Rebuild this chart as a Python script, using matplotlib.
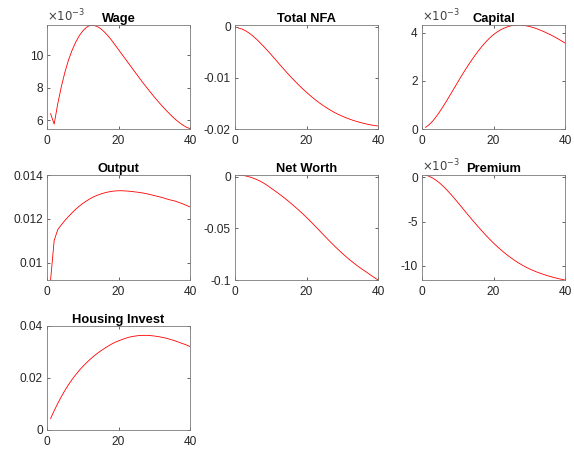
import matplotlib
matplotlib.use("Agg")
import matplotlib.pyplot as plt
from matplotlib.ticker import FuncFormatter
import numpy as np

plt.rcParams['font.family'] = ['Liberation Sans', 'DejaVu Sans']
plt.rcParams['axes.unicode_minus'] = False

# horizon (quarters)
periods = np.arange(1, 41)

# impulse responses, values in units of 1e-3
wage = [6.40, 5.75, 7.00, 8.05, 8.95, 9.70, 10.30, 10.80, 11.20, 11.50,
        11.72, 11.85, 11.85, 11.78, 11.65, 11.45, 11.22, 10.95, 10.65, 10.35,
        10.05, 9.75, 9.45, 9.15, 8.85, 8.55, 8.26, 7.98, 7.70, 7.43,
        7.17, 6.92, 6.68, 6.45, 6.23, 6.03, 5.85, 5.69, 5.56, 5.47]
total_nfa = [-0.30, -0.50, -0.85, -1.30, -1.85, -2.47, -3.15, -3.87, -4.62, -5.40,
             -6.20, -7.00, -7.80, -8.59, -9.36, -10.11, -10.83, -11.53, -12.20, -12.84,
             -13.45, -14.03, -14.58, -15.10, -15.58, -16.03, -16.45, -16.83, -17.18, -17.50,
             -17.79, -18.06, -18.30, -18.52, -18.72, -18.90, -19.06, -19.20, -19.32, -19.42]
capital = [0.07, 0.18, 0.33, 0.52, 0.73, 0.96, 1.20, 1.45, 1.70, 1.95,
           2.20, 2.44, 2.67, 2.89, 3.10, 3.30, 3.48, 3.65, 3.80, 3.93,
           4.04, 4.13, 4.20, 4.26, 4.30, 4.32, 4.33, 4.32, 4.30, 4.27,
           4.23, 4.18, 4.12, 4.06, 3.99, 3.92, 3.84, 3.76, 3.67, 3.58]
output = [9.2, 11.0, 11.5, 11.72, 11.92, 12.1, 12.27, 12.43, 12.57, 12.7,
          12.81, 12.91, 13.0, 13.07, 13.13, 13.18, 13.22, 13.25, 13.27, 13.28,
          13.28, 13.27, 13.26, 13.24, 13.22, 13.2, 13.17, 13.14, 13.10, 13.06,
          13.02, 12.98, 12.93, 12.88, 12.84, 12.80, 12.74, 12.68, 12.61, 12.54]
net_worth = [1.5, 1.2, 0.6, -0.3, -1.4, -2.8, -4.4, -6.3, -8.5, -11.0,
             -13.4, -15.9, -18.5, -21.2, -24.0, -26.9, -29.9, -33.0, -36.2, -39.5,
             -42.9, -46.4, -50.0, -53.6, -57.2, -60.8, -64.3, -67.7, -71.0, -74.2,
             -77.3, -80.2, -83.0, -85.7, -88.2, -90.6, -92.9, -95.4, -97.7, -100.0]
premium = [0.25, 0.10, -0.10, -0.36, -0.68, -1.05, -1.46, -1.90, -2.36, -2.84,
           -3.33, -3.82, -4.31, -4.79, -5.26, -5.72, -6.17, -6.61, -7.03, -7.43,
           -7.81, -8.17, -8.51, -8.83, -9.13, -9.41, -9.67, -9.91, -10.13, -10.33,
           -10.51, -10.68, -10.83, -10.97, -11.10, -11.22, -11.33, -11.43, -11.52, -11.60]
housing_invest = [4.4, 7.4, 10.2, 12.8, 15.2, 17.4, 19.4, 21.2, 22.9, 24.4,
                  25.8, 27.1, 28.3, 29.4, 30.4, 31.3, 32.2, 33.0, 33.7, 34.3,
                  34.8, 35.3, 35.7, 36.0, 36.2, 36.35, 36.4, 36.4, 36.3, 36.15,
                  35.95, 35.7, 35.4, 35.05, 34.65, 34.2, 33.7, 33.2, 32.7, 32.1]

titles = ['Wage', 'Total NFA', 'Capital', 'Output', 'Net Worth', 'Premium', 'Housing Invest']
series = [wage, total_nfa, capital, output, net_worth, premium, housing_invest]
# panels drawn with a x10^-3 axis multiplier
scaled = [True, False, True, False, False, True, False]
ylims = [(5.45, 11.87), (-20, 0.3), (0, 4.33), (9.2, 14), (-100, 1.5), (-11.6, 0.25), (0, 40)]
yticks = [[6, 8, 10], [-20, -10, 0], [0, 2, 4], [10, 12, 14], [-100, -50, 0], [-10, -5, 0], [0, 20, 40]]

fig = plt.figure(figsize=(5.74, 4.53), dpi=100)
W, H = 574, 453
lefts = [47, 235, 422]
tops = [25, 175, 326]
bottoms = [129, 280, 430]
aw = 143

for i, (name, vals) in enumerate(zip(titles, series)):
    r, c = divmod(i, 3)
    ax = fig.add_axes([lefts[c] / W, 1 - bottoms[r] / H, aw / W, (bottoms[r] - tops[r]) / H])
    k = 1.0 if scaled[i] else 1e-3
    ax.plot(periods, np.array(vals) * k, color='#ff0000', linewidth=0.6)
    ax.set_xlim(0, 40)
    ax.set_xticks([0, 20, 40])
    lo, hi = ylims[i]
    ax.set_ylim(lo * k, hi * k)
    ax.set_yticks([t * k for t in yticks[i]])
    ax.yaxis.set_major_formatter(FuncFormatter(lambda v, p: '%g' % round(v, 6)))
    ax.xaxis.set_major_formatter(FuncFormatter(lambda v, p: '%g' % v))
    ax.tick_params(direction='in', length=2, width=0.5, top=True, right=True,
                   labelsize=8.6, colors='#262626')
    ax.tick_params(axis='x', pad=4)
    ax.tick_params(axis='y', pad=3)
    for s in ax.spines.values():
        s.set_color('#7a7a7a')
        s.set_linewidth(0.6)
    ax.set_title(name, fontsize=9.3, fontweight='bold', pad=2)
    if scaled[i]:
        ax.text(0, 1.005, r'$\times10^{-3}$', transform=ax.transAxes,
                fontsize=8.4, color='#404040', ha='left', va='bottom')

fig.savefig('out.png', dpi=100)
